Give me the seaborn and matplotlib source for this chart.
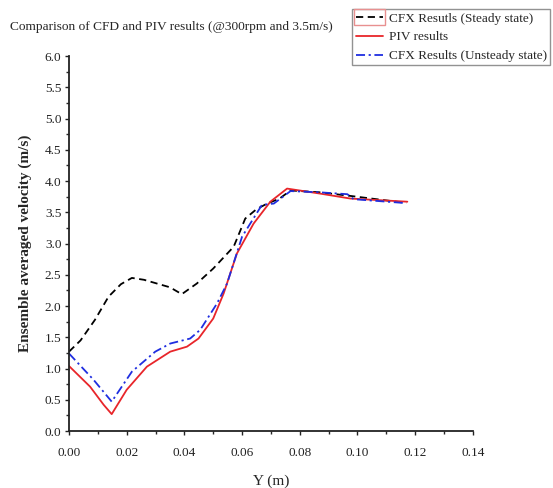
import matplotlib
matplotlib.use("Agg")
import matplotlib.pyplot as plt
from matplotlib.ticker import MultipleLocator
from matplotlib.patches import Rectangle
import seaborn as sns
import pandas as pd

# Data
steady_y = [0.000, 0.0040, 0.0090, 0.0137, 0.0180, 0.0218, 0.0260, 0.0305, 0.0350, 0.0391,
            0.0443, 0.0500, 0.0571, 0.0611, 0.0650, 0.0687, 0.0730, 0.0768, 0.0870, 0.0980, 0.1170]
steady_v = [1.27, 1.45, 1.78, 2.15, 2.35, 2.45, 2.42, 2.36, 2.30, 2.19,
            2.36, 2.60, 2.95, 3.40, 3.55, 3.64, 3.72, 3.85, 3.82, 3.76, 3.65]

piv_y = [0.000, 0.0073, 0.0120, 0.0148, 0.0200, 0.0270, 0.0351, 0.0409, 0.0449, 0.0500,
         0.0536, 0.0582, 0.0640, 0.0698, 0.0756, 0.0870, 0.0976, 0.1173]
piv_v = [1.04, 0.71, 0.42, 0.27, 0.66, 1.03, 1.27, 1.35, 1.48, 1.80,
         2.20, 2.84, 3.32, 3.67, 3.88, 3.80, 3.72, 3.67]

unsteady_y = [0.000, 0.0085, 0.0148, 0.0218, 0.0299, 0.0351, 0.0420, 0.0455, 0.0513, 0.0548,
              0.0600, 0.0669, 0.0710, 0.0768, 0.0870, 0.0965, 0.0987, 0.1161]
unsteady_v = [1.24, 0.82, 0.47, 0.95, 1.27, 1.40, 1.48, 1.62, 2.04, 2.36,
              3.11, 3.62, 3.64, 3.84, 3.82, 3.79, 3.71, 3.65]

labels = ["CFX Resutls (Steady state)", "PIV results", "CFX Results (Unsteady state)"]

df = pd.concat([
    pd.DataFrame({"Y": steady_y, "V": steady_v, "series": labels[0]}),
    pd.DataFrame({"Y": piv_y, "V": piv_v, "series": labels[1]}),
    pd.DataFrame({"Y": unsteady_y, "V": unsteady_v, "series": labels[2]}),
])

sns.set_style("ticks")
plt.rcParams["font.family"] = ["Liberation Serif", "DejaVu Serif"]

fig = plt.figure(figsize=(5.53, 4.88), dpi=100)
ax = fig.add_axes([0.1248, 0.1168, 0.7302, 0.7682])

palette = {labels[0]: "black", labels[1]: "#e8252a", labels[2]: "#1f2ee0"}
dashes = {labels[0]: (4, 2.5), labels[1]: "", labels[2]: (5, 2, 1.2, 2)}
sns.lineplot(data=df, x="Y", y="V", hue="series", style="series", palette=palette,
             dashes=dashes, sort=False, estimator=None, linewidth=1.3, ax=ax, legend=True)

ax.set_xlim(0, 0.14)
ax.set_ylim(0, 6.0)
ax.xaxis.set_major_locator(MultipleLocator(0.02))
ax.xaxis.set_minor_locator(MultipleLocator(0.01))
ax.yaxis.set_major_locator(MultipleLocator(0.5))
ax.yaxis.set_minor_locator(MultipleLocator(0.25))
ax.xaxis.set_major_formatter(plt.FuncFormatter(lambda v, p: f"{v:.2f}"))
ax.yaxis.set_major_formatter(plt.FuncFormatter(lambda v, p: f"{v:.1f}"))
ax.tick_params(axis="both", which="major", labelsize=9.5, length=3, width=1, direction="out",
               colors="#222222")
ax.tick_params(axis="x", which="major", pad=8.5)
ax.tick_params(axis="y", which="major", pad=2.5)
ax.tick_params(axis="both", which="minor", length=2, width=1, direction="out")
for s in ["top", "right"]:
    ax.spines[s].set_visible(False)
for s in ["left", "bottom"]:
    ax.spines[s].set_linewidth(1.3)
    ax.spines[s].set_color("#222222")

ax.set_xlabel("Y (m)", fontsize=11, labelpad=11)
ax.set_ylabel("Ensemble averaged velocity (m/s)", fontsize=11, fontweight="bold", labelpad=9)

fig.text(0.018, 0.945, "Comparison of CFD and PIV results (@300rpm and 3.5m/s)", fontsize=9.6,
         ha="left", va="center")

leg = ax.legend(loc="upper right", bbox_to_anchor=(0.9946, 0.9816), bbox_transform=fig.transFigure,
                fontsize=9.5, frameon=True, fancybox=False, handlelength=2.1, handletextpad=0.4,
                borderpad=0.25, labelspacing=0.5, borderaxespad=0)
leg.get_frame().set_edgecolor("#777777")
leg.get_frame().set_linewidth(1.0)

# faint red highlight box around the first legend handle, as in the reference
fig.canvas.draw()
bb = leg.legend_handles[0].get_window_extent(fig.canvas.get_renderer())
inv = fig.transFigure.inverted()
(x0, y0), (x1, y1) = inv.transform([(bb.x0 - 2, bb.y0 - 8), (bb.x1 + 2, bb.y1 + 8)])
fig.patches.append(Rectangle((x0, y0), x1 - x0, y1 - y0, transform=fig.transFigure,
                             fill=False, edgecolor="#e89090", linewidth=1.0))

fig.savefig("out.png", dpi=100)
